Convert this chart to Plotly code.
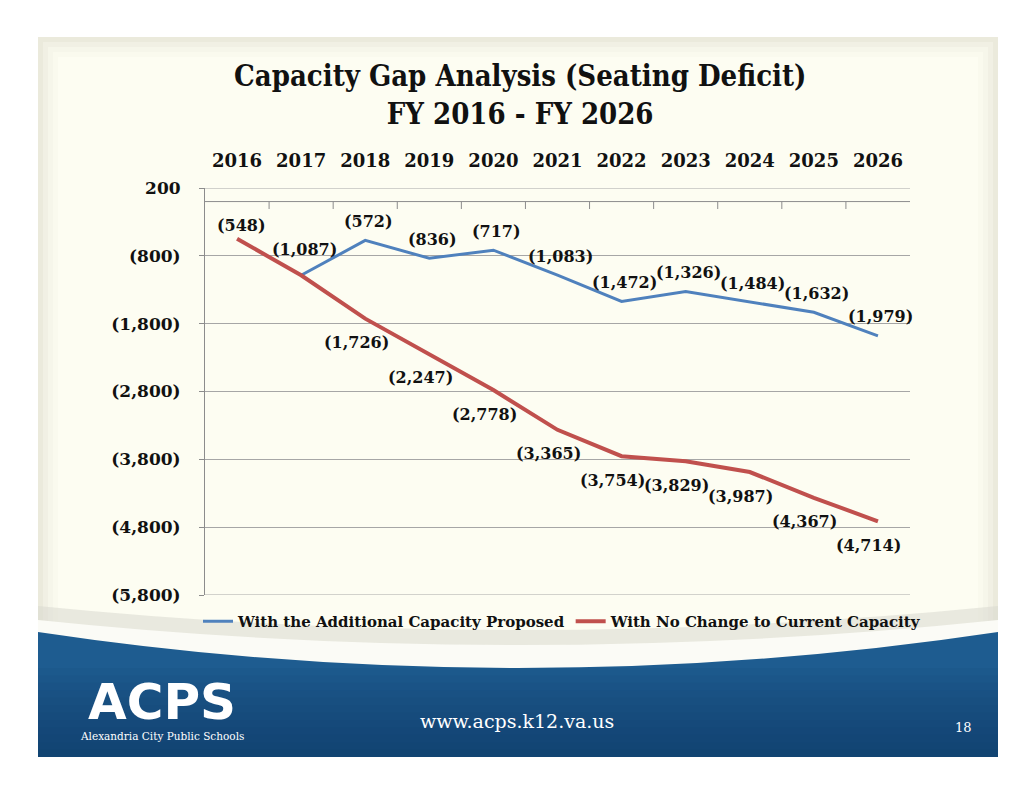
import plotly.graph_objects as go

years = ["2016", "2017", "2018", "2019", "2020", "2021", "2022", "2023", "2024", "2025", "2026"]
additional_capacity = [None, -1087, -572, -836, -717, -1083, -1472, -1326, -1484, -1632, -1979]
no_change = [-548, -1087, -1726, -2247, -2778, -3365, -3754, -3829, -3987, -4367, -4714]
red_label_shown = [True, False, True, True, True, True, True, True, True, True, True]
y_ticks = [200, -800, -1800, -2800, -3800, -4800, -5800]

def fmt(v):
    if v is None:
        return ""
    if v < 0:
        return "({:,})".format(-v)
    return "{:,}".format(v)

SERIF = "DejaVu Serif"
COND = "DejaVu Serif Condensed, DejaVu Serif"
BLUE = "#4F81BD"
RED = "#C0504D"
LABEL_FONT = dict(family=SERIF, size=16, color="#111111", weight="bold")

# plot area in pixels
L, R, T, B = 205, 910, 188, 595
W, H = 1035, 788
def px(x):
    return (x - L) / (R - L)
def py(y):
    return (B - y) / (B - T)

fig = go.Figure()
fig.add_trace(go.Scatter(
    x=years, y=additional_capacity, mode="lines",
    name="With the Additional Capacity Proposed",
    line=dict(color=BLUE, width=3), cliponaxis=False,
))
fig.add_trace(go.Scatter(
    x=years, y=no_change, mode="lines",
    name="With No Change to Current Capacity",
    line=dict(color=RED, width=4), cliponaxis=False,
))

annotations = []
# data labels (x given as the category index on the category axis)
for i, v in enumerate(additional_capacity):
    if v is None:
        continue
    annotations.append(dict(x=i, y=v, xref="x", yref="y", text=fmt(v), showarrow=False,
                            xanchor="center", yanchor="middle",
                            xshift=3, yshift=(26 if i == 1 else 19), font=LABEL_FONT))
for i, (v, s) in enumerate(zip(no_change, red_label_shown)):
    if not s:
        continue
    if i == 0:
        xs, ys = 4, 13
    else:
        xs, ys = -9, -24
    annotations.append(dict(x=i, y=v, xref="x", yref="y", text=fmt(v), showarrow=False,
                            xanchor="center", yanchor="middle",
                            xshift=xs, yshift=ys, font=LABEL_FONT))

shapes = []
# slide background (cream panel with soft vignette)
panel_steps = ["#EBEADC", "#F1F0E4", "#F6F6EA", "#FAFAEE", "#FDFDF2"]
for k, c in enumerate(panel_steps):
    d = k * 5
    shapes.append(dict(type="rect", xref="paper", yref="paper", layer="below",
                       x0=px(38 + d), x1=px(998 - d), y0=py(700), y1=py(37 + d),
                       fillcolor=c, line=dict(width=0)))

def curve_path(y_edge, y_mid, y_bottom, x0=38, x1=998):
    xm = (x0 + x1) / 2
    yc = 2 * y_mid - y_edge
    return ("M {a},{b} Q {c},{d} {e},{f} L {e},{g} L {a},{g} Z".format(
        a=px(x0), b=py(y_edge), c=px(xm), d=py(yc), e=px(x1), f=py(y_edge), g=py(y_bottom)))

# soft grey gloss line and white band above the footer
shapes.append(dict(type="path", xref="paper", yref="paper", layer="below",
                   path=curve_path(606, 630, 700), fillcolor="#D9D9CF", line=dict(width=0), opacity=0.55))
shapes.append(dict(type="path", xref="paper", yref="paper", layer="below",
                   path=curve_path(620, 645, 700), fillcolor="#FBFBF6", line=dict(width=0)))
# blue footer with vertical gradient
shapes.append(dict(type="path", xref="paper", yref="paper", layer="below",
                   path=curve_path(632, 668, 757), fillcolor="#1E5C90", line=dict(width=0)))
n_strips = 12
for k in range(n_strips):
    y0 = 668 + k * (757 - 668) / n_strips
    shapes.append(dict(type="rect", xref="paper", yref="paper", layer="below",
                       x0=px(38), x1=px(998), y0=py(757), y1=py(y0),
                       fillcolor="#0B3460", line=dict(width=0), opacity=0.07))

# gridlines at the range edges
for v in (y_ticks[0], y_ticks[-1]):
    shapes.append(dict(type="line", xref="x domain", yref="y", x0=0, x1=1, y0=v, y1=v,
                       line=dict(color="#A6A6A6", width=1)))
# category axis line crossing at zero, with tick marks between categories
shapes.append(dict(type="line", xref="x domain", yref="y", x0=0, x1=1, y0=0, y1=0,
                   line=dict(color="#8C8C8C", width=1)))
for i in range(len(years) - 1):
    shapes.append(dict(type="line", xref="x", yref="y", x0=i + 0.5, x1=i + 0.5,
                       y0=0, y1=-110, line=dict(color="#8C8C8C", width=1)))

annotations += [
    dict(text="Capacity Gap Analysis (Seating Deficit)<br>FY 2016 - FY 2026",
         xref="paper", yref="paper", x=px(520), y=py(95), xanchor="center", yanchor="middle",
         showarrow=False, font=dict(family=COND, size=29, color="#111111", weight="bold")),
    dict(text="www.acps.k12.va.us", xref="paper", yref="paper", x=px(517), y=py(721),
         xanchor="center", yanchor="middle", showarrow=False,
         font=dict(family=SERIF, size=19, color="#FFFFFF")),
    dict(text="18", xref="paper", yref="paper", x=px(963), y=py(727),
         xanchor="center", yanchor="middle", showarrow=False,
         font=dict(family=SERIF, size=13, color="#FFFFFF")),
    dict(text="ACPS", xref="paper", yref="paper", x=px(162), y=py(702),
         xanchor="center", yanchor="middle", showarrow=False,
         font=dict(family="DejaVu Sans", size=50, color="#FFFFFF", weight="bold")),
    dict(text="Alexandria City Public Schools", xref="paper", yref="paper", x=px(162), y=py(736),
         xanchor="center", yanchor="middle", showarrow=False,
         font=dict(family=SERIF, size=10.5, color="#FFFFFF")),
]

fig.update_layout(
    width=W, height=H,
    margin=dict(l=L, r=W - R, t=T, b=H - B, pad=0),
    paper_bgcolor="#FFFFFF",
    plot_bgcolor="rgba(0,0,0,0)",
    shapes=shapes,
    annotations=annotations,
    showlegend=True,
    legend=dict(orientation="h", x=px(198), y=py(605), xanchor="left", yanchor="top",
                font=dict(family=SERIF, size=15, color="#111111", weight="bold"),
                bgcolor="rgba(0,0,0,0)", itemwidth=30, tracegroupgap=0),
    xaxis=dict(type="category", side="top", range=[-0.5, len(years) - 0.5],
               showgrid=False, zeroline=False, showline=False, ticks="",
               tickfont=dict(family=SERIF, size=18, color="#111111", weight="bold"),
               ticklabelstandoff=16),
    yaxis=dict(range=[-5800, 200], tickvals=y_ticks, ticktext=[fmt(v) for v in y_ticks],
               showgrid=True, gridcolor="#A6A6A6", gridwidth=1, zeroline=False,
               showline=True, linecolor="#8C8C8C", linewidth=1,
               ticks="outside", ticklen=5, tickcolor="#8C8C8C",
               tickfont=dict(family=SERIF, size=17, color="#111111", weight="bold"),
               ticklabelstandoff=15),
)

fig.write_html("out.html", config={"displayModeBar": False},
               post_script="document.body.style.margin='0';document.body.style.overflow='hidden';")
